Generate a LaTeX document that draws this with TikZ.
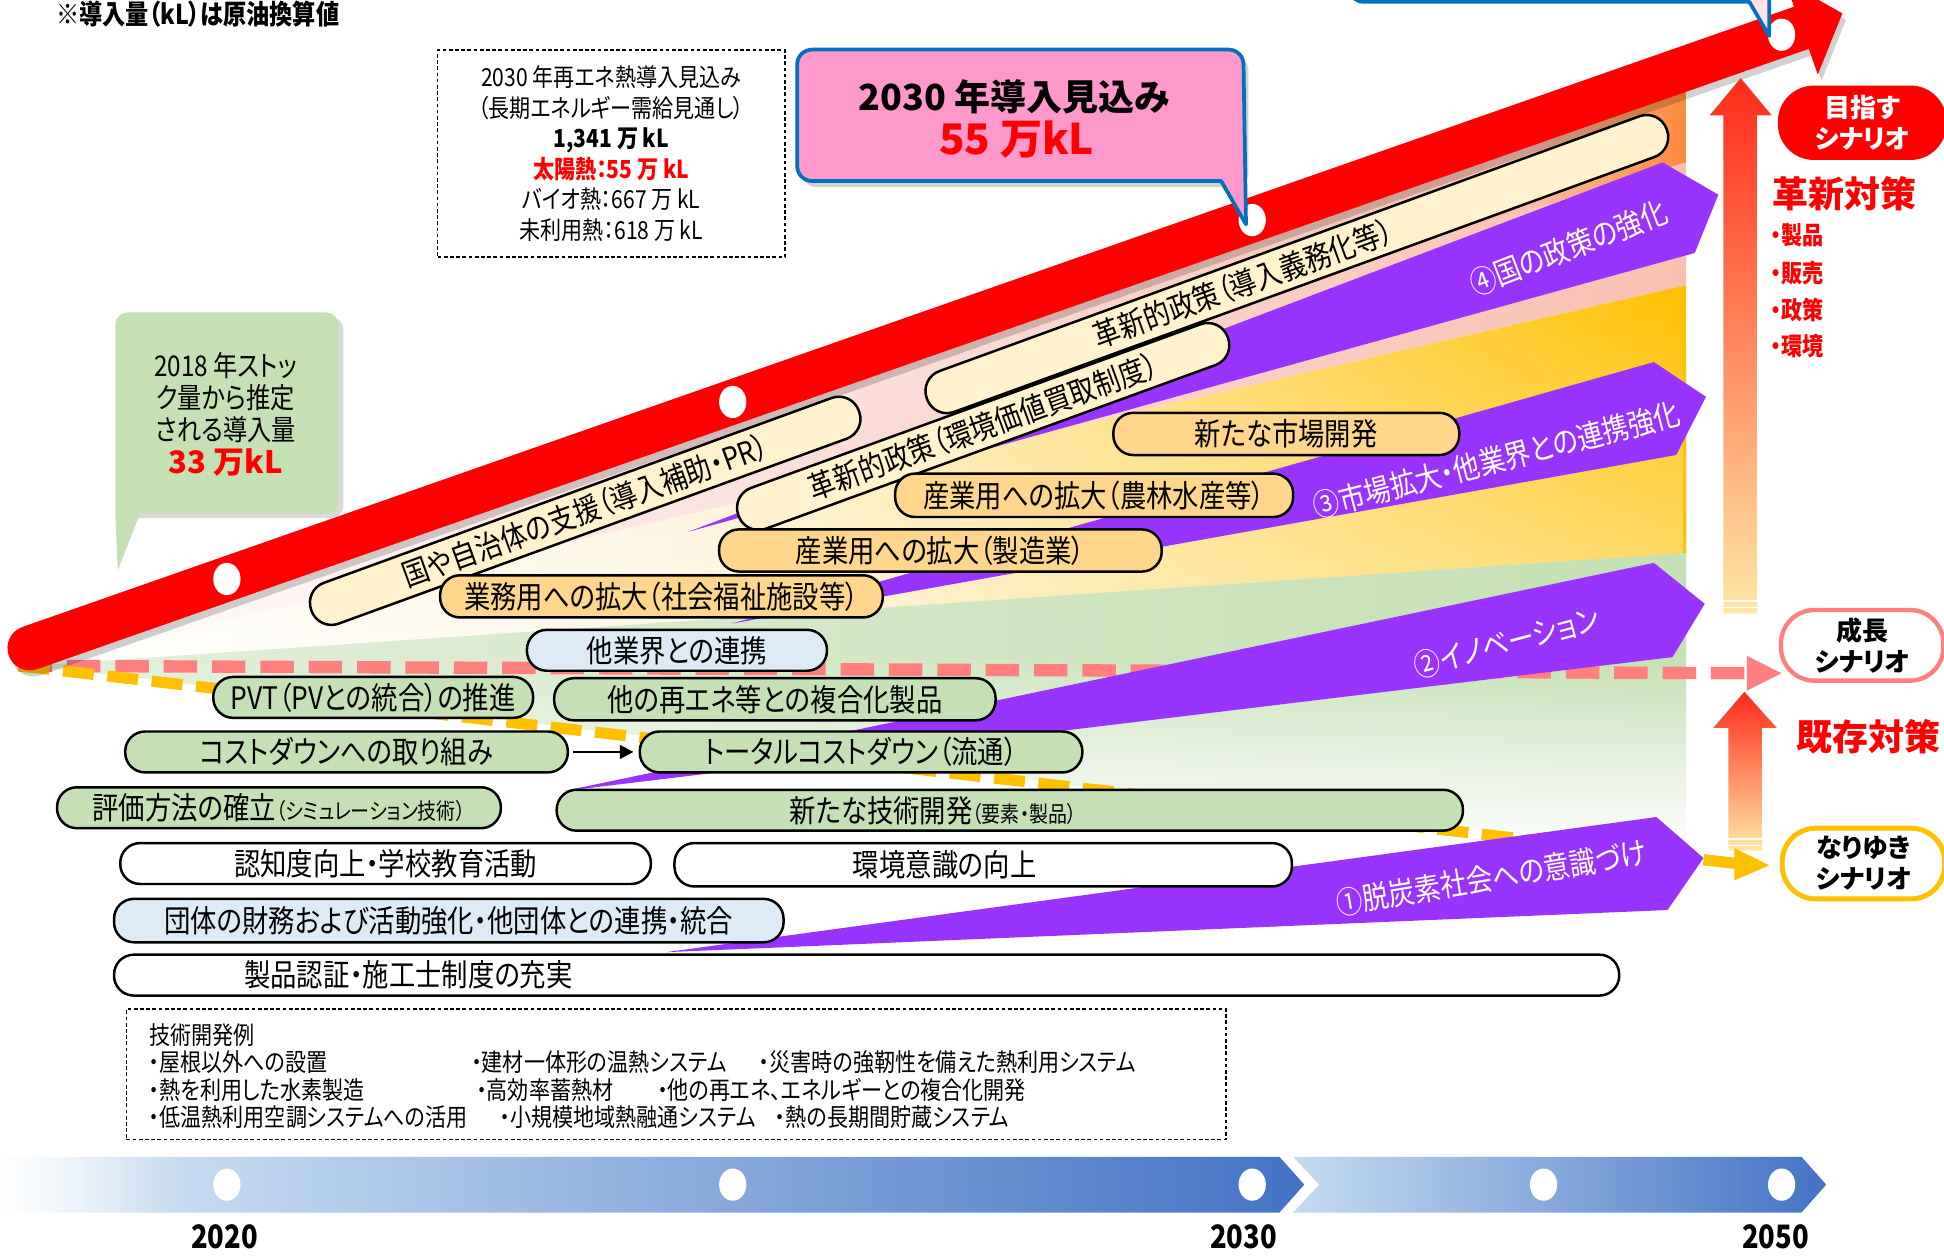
\documentclass[tikz,border=0pt]{standalone}
\usepackage{fontspec}
\setmainfont{Noto Sans CJK JP}[FakeStretch=0.85,RawFeature=+palt]
\newfontfamily\jpw{Noto Sans CJK JP}[RawFeature=+palt]
\usetikzlibrary{arrows.meta,fadings}
\newcommand\fsz[1]{\fontsize{#1}{#1}\selectfont}

\definecolor{bandred}{HTML}{FF0000}
\definecolor{purp}{HTML}{9933FF}
\definecolor{pinkd}{HTML}{FF7F7F}
\definecolor{yeld}{HTML}{FFC000}
\definecolor{boxorange}{HTML}{FFD68B}
\definecolor{boxcream}{HTML}{FFF2CC}
\definecolor{boxblue}{HTML}{DEEBF7}
\definecolor{boxgreen}{HTML}{C5E0B4}
\definecolor{calpink}{HTML}{FF99CC}
\definecolor{calpinklt}{HTML}{FDE0EA}
\definecolor{calblue}{HTML}{0070C0}
\definecolor{tlblue}{HTML}{4472C4}
\definecolor{tllight}{HTML}{C5DBF0}
\definecolor{tlpale}{HTML}{EAF2FA}
\definecolor{fAmid}{HTML}{FBDCD8}
\definecolor{fAhi}{HTML}{F9C0B0}
\definecolor{fAor}{HTML}{FF8A3C}
\definecolor{fBmid}{HTML}{FDF0D0}
\definecolor{fBhi}{HTML}{FFD65A}
\definecolor{fCpale}{HTML}{E6F1E0}
\definecolor{arrowred}{HTML}{FF2A1A}
\definecolor{arrowmid}{HTML}{FF8C6A}
\definecolor{arrowlow}{HTML}{FFE8A6}

\pgfdeclarehorizontalshading{fanAone}{100bp}{color(0bp)=(white); color(25bp)=(white); color(52bp)=(fAmid); color(70bp)=(fAhi); color(75bp)=(fAor); color(100bp)=(fAor)}
\pgfdeclarehorizontalshading{fanAtwo}{100bp}{color(0bp)=(white); color(25bp)=(white); color(50bp)=(fAmid); color(75bp)=(fAhi); color(100bp)=(fAhi)}
\pgfdeclarehorizontalshading{fanB}{100bp}{color(0bp)=(white); color(25bp)=(white); color(45bp)=(fBmid); color(62bp)=(fBhi); color(75bp)=(yeld); color(100bp)=(yeld)}
\pgfdeclareverticalshading{fanC}{100bp}{color(0bp)=(white); color(25bp)=(white); color(40bp)=(fCpale); color(58bp)=(boxgreen); color(100bp)=(boxgreen)}
\pgfdeclarehorizontalshading{tlone}{100bp}{color(0bp)=(white); color(25bp)=(white); color(28bp)=(tlpale); color(32bp)=(tllight); color(75bp)=(tlblue); color(100bp)=(tlblue)}
\pgfdeclarehorizontalshading{tltwo}{100bp}{color(0bp)=(tllight); color(25bp)=(tllight); color(75bp)=(tlblue); color(100bp)=(tlblue)}

\begin{document}
\begin{tikzpicture}[x=1pt,y=-1pt,
  pill/.style={inner sep=0pt, draw=black, line width=2pt, rounded corners=16pt, minimum height=33pt, font=\fsz{25}, text height=22pt, text depth=3pt},
  orangepill/.style={pill, fill=boxorange},
  bluepill/.style={pill, fill=boxblue},
  greenpill/.style={pill, fill=boxgreen},
  whitepill/.style={pill, fill=white},
  rpill/.style={pill, fill=boxcream, rounded corners=17pt, minimum height=35pt, rotate=20},
  ptext/.style={inner sep=0pt, text=white, font=\fsz{25}, text height=22pt, text depth=3pt},
  techt/.style={inner sep=0pt, anchor=west, font=\fsz{20}, text height=17.6pt, text depth=2.4pt},
  redhead/.style={inner sep=0pt, text=bandred, font=\jpw\bfseries\fsz{29}, text height=25.5pt, text depth=3.5pt},
  reditem/.style={inner sep=0pt, anchor=west, text=bandred, font=\bfseries\fsz{20}, text height=17.6pt, text depth=2.4pt},
  scen/.style={fill=white, line width=3.5pt, rounded corners=27pt, minimum width=131pt, minimum height=57pt, align=center, inner sep=0pt, font=\jpw\bfseries\fontsize{21}{25}\selectfont},
  year/.style={inner sep=0pt, font=\bfseries\fsz{26}, text height=22.9pt, text depth=3.1pt},
  pdash/.style={pinkd, line width=10pt, dash pattern=on 27pt off 12pt},
  ydash/.style={yeld, line width=9pt, dash pattern=on 25pt off 11pt}
]
\useasboundingbox (0,0) rectangle (1568,1013);
\fill[white] (0,0) rectangle (1568,1013);
\begin{scope}
\clip (0,0) rectangle (1568,1013);

% ---------- background fans ----------
\coordinate (org) at (25,537);
\shade[shading=fanAone] (25,522) -- (1360,55) -- (1360,131) -- (org) -- cycle;
\shade[shading=fanAtwo] (org) -- (1360,131) -- (1360,230) -- cycle;
\shade[shading=fanB] (org) -- (1360,230) -- (1360,446) -- cycle;
\fill[white, path fading=north, fill opacity=0.55] (org) -- (1360,230) -- (1360,446) -- cycle;
\shade[shading=fanC] (org) -- (1360,446) -- (1360,690) -- cycle;
\fill[white, path fading=east, fill opacity=0.5] (org) -- (1360,446) -- (1360,690) -- cycle;

% ---------- scenario dashed lines ----------
\coordinate (pinkend) at (1409,543);
\coordinate (yelend) at (1379,694);
\draw[pdash] (15,537) -- (pinkend);
\draw[ydash] (15,537) -- (yelend);

% ---------- purple arrows ----------
\fill[purp] (555,429) -- (1341,131) -- (1386,157) -- (1367,204) -- cycle;
\fill[purp] (590,503) -- (1334,292) -- (1376,320) -- (1352,367) -- cycle;
\fill[purp] (455,638) -- (1334,454) -- (1375,487) -- (1349,530) -- cycle;
\fill[purp] (537,768) -- (1336,659) -- (1374,692) -- (1345,734) -- cycle;
\node[ptext, rotate=21] (t4) at (1265,200) {④国の政策の強化};
\node[ptext, rotate=14.5] (t3) at (1207,371) {③市場拡大・他業界との連携強化};
\node[ptext, rotate=15] (t2) at (1215,518) {②イノベーション};
\node[ptext, rotate=9.5] (t1) at (1203,708) {①脱炭素社会への意識づけ};

% ---------- red band ----------
\coordinate (bandS) at (24,522.7);
\coordinate (bandE) at (1453,22.4);
\draw[line width=36pt, black, opacity=0.18, line cap=round] (27,527.7) -- (1456,27.4);
\fill[black, opacity=0.18] (1442.8,-10.3) -- (1489,15.8) -- (1469.2,65.1) -- cycle;
\draw[line width=36pt, bandred, line cap=round] (bandS) -- (bandE);
\fill[bandred] (1439.8,-15.3) -- (1486,10.8) -- (1466.2,60.1) -- cycle;
\foreach \p in {(183,467),(591,324.2),(1010,177.5),(1437,28)}
  \fill[white] \p ellipse [x radius=11, y radius=13];

% ---------- rotated boxes ----------
\node[rpill, minimum width=470pt] (sup) at (472,412) {国や自治体の支援（導入補助・PR）};
\node[rpill, minimum width=420pt] (pol1) at (793,344) {革新的政策（環境価値買取制度）};
\node[rpill, text width=347pt, inner xsep=144pt, align=left] (pol2) at (1046,213) {革新的政策（導入義務化等）};

% ---------- horizontal boxes ----------
\node[orangepill, minimum width=279pt, minimum height=34pt] (mkt) at (1037.5,350) {新たな市場開発};
\node[orangepill, minimum width=321pt, minimum height=35pt] (agri) at (882.5,399.5) {産業用への拡大（農林水産等）};
\node[orangepill, minimum width=357pt, minimum height=34pt] (manu) at (758.5,444) {産業用への拡大（製造業）};
\node[orangepill, minimum width=357pt, minimum height=34pt] (biz) at (533.5,481) {業務用への拡大（社会福祉施設等）};
\node[bluepill, minimum width=242pt] (ind) at (546,524.5) {他業界との連携};
\node[greenpill, minimum width=258pt] (pvt) at (301,562.5) {PVT（PVとの統合）の推進};
\node[greenpill, minimum width=356pt, minimum height=34pt] (hyb) at (625,564) {他の再エネ等との複合化製品};
\node[greenpill, minimum width=357pt] (cost) at (279.5,606.5) {コストダウンへの取り組み};
\node[greenpill, minimum width=357pt] (total) at (694.5,606.5) {トータルコストダウン（流通）};
\node[greenpill, minimum width=358pt] (eval) at (225,651.5) {評価方法の確立{\fsz{18}（シミュレーション技術）}};
\node[greenpill, text width=355pt, inner xsep=188pt, align=left] (newtech) at (814.5,653.5) {新たな技術開発{\fsz{18}（要素・製品）}};
\node[whitepill, minimum width=428pt] (aware) at (311,696.5) {認知度向上・学校教育活動};
\node[whitepill, minimum height=35pt, text width=210pt, inner xsep=144pt, align=left] (env) at (793,697.5) {環境意識の向上};
\node[bluepill, minimum width=540pt, minimum height=35pt] (assoc) at (362,742.5) {団体の財務および活動強化・他団体との連携・統合};
\node[whitepill, text width=1004pt, inner xsep=105pt, align=left] (cert) at (699,786.5) {製品認証・施工士制度の充実};
\draw[line width=2pt, -{Triangle[length=11pt,width=11pt]}, shorten <=3pt, shorten >=4pt] (cost) -- (total);

% ---------- callouts ----------
\fill[black, opacity=0.15, rounded corners=10pt] (97,256) rectangle (277,418);
\fill[boxgreen] (95,460) -- (113,414) -- (263,414) arc[start angle=90, end angle=0, radius=10] -- (273,262) arc[start angle=0, end angle=-90, radius=10] -- (103,252) arc[start angle=270, end angle=180, radius=10] -- (93,414) -- cycle;
\node[align=center, inner sep=0pt, font=\fontsize{23}{26}\selectfont] (stock) at (182,334) {2018 年ストッ\\ク量から推定\\される導入量\\{\jpw\bfseries\fsz{25}\color{bandred}33 万kL}};

\fill[black, opacity=0.18, rounded corners=12pt] (647,45) rectangle (1007,151);
\filldraw[fill=calpink, draw=calblue, line width=3pt, line join=round] (1005,181) -- (985,146) -- (655,146) arc[start angle=90, end angle=180, radius=12] -- (643,52) arc[start angle=180, end angle=270, radius=12] -- (991,40) arc[start angle=270, end angle=360, radius=12] -- cycle;
\node[inner sep=0pt, font=\jpw\bfseries\fsz{29}, text height=25.5pt, text depth=3.5pt] (c30a) at (818,78) {2030 年導入見込み};
\node[inner sep=0pt, font=\jpw\bfseries\fsz{34}, text height=29.9pt, text depth=4.1pt, text=bandred] (c30b) at (820,112) {55 万kL};

\filldraw[fill=calpinklt, draw=calblue, line width=3pt, line join=round] (1427,29) -- (1411,1.5) -- (1100,1.5) arc[start angle=90, end angle=180, radius=12] -- (1088,-30) -- (1427,-30) -- cycle;

% ---------- notes ----------
\node[inner sep=0pt, anchor=west, font=\bfseries\fsz{22}, text height=19.4pt, text depth=2.6pt] (note) at (45,11) {※導入量（kL）は原油換算値};
\node[draw, dash pattern=on 3pt off 2pt, line width=1.3pt, minimum width=280pt, minimum height=167pt, align=center, inner sep=0pt, font=\fontsize{20}{24.6}\selectfont] (info) at (493,124)
 {2030 年再エネ熱導入見込み\\（長期エネルギー需給見通し）\\{\bfseries 1,341 万 kL}\\{\bfseries\color{bandred}太陽熱：55 万 kL}\\バイオ熱：667 万 kL\\未利用熱：618 万 kL};

\node[draw, dash pattern=on 3pt off 2pt, line width=1.3pt, minimum width=887pt, minimum height=105pt, inner sep=0pt] (techbox) at (545.5,866.5) {};
\node[techt] (tk0) at (120,835) {技術開発例};
\node[techt] (tk1) at (120,857) {・屋根以外への設置};
\node[techt] (tk2) at (380,857) {・建材一体形の温熱システム};
\node[techt] (tk3) at (612,857) {・災害時の強靭性を備えた熱利用システム};
\node[techt] (tk4) at (120,879) {・熱を利用した水素製造};
\node[techt] (tk5) at (384,879) {・高効率蓄熱材};
\node[techt] (tk6) at (530,879) {・他の再エネ、エネルギーとの複合化開発};
\node[techt] (tk7) at (120,901) {・低温熱利用空調システムへの活用};
\node[techt] (tk8) at (403,901) {・小規模地域熱融通システム};
\node[techt] (tk9) at (625,901) {・熱の長期間貯蔵システム};

% ---------- timeline ----------
\shade[shading=tlone] (0,933) -- (1032,933) -- (1052,955.5) -- (1032,978) -- (0,978) -- cycle;
\shade[shading=tltwo] (1043,933) -- (1453,933) -- (1473,955.5) -- (1453,978) -- (1043,978) -- (1064,955.5) -- cycle;
\foreach \x in {183,591,1010,1245,1437}
  \fill[white] (\x,955.5) ellipse [x radius=11, y radius=13];
\node[year] (y2020) at (181,997) {2020};
\node[year] (y2030) at (1003,997) {2030};
\node[year] (y2050) at (1432,997) {2050};

% ---------- right side ----------
\shade[top color=arrowred, middle color=arrowmid, bottom color=arrowlow] (1390,495) -- (1390,93) -- (1379,93) -- (1404,63) -- (1429,93) -- (1417,93) -- (1417,495) -- cycle;
\draw[white, line width=1.5pt] (1389,485) -- (1418,485) (1389,490) -- (1418,490);
\shade[top color=arrowred, bottom color=arrowlow] (1394,686) -- (1394,587) -- (1382,587) -- (1407,558) -- (1433,587) -- (1421,587) -- (1421,686) -- cycle;
\draw[white, line width=1.5pt] (1393,677) -- (1422,677) (1393,682) -- (1422,682);

\node[scen, fill=bandred, draw=none, text=white, minimum width=136pt, minimum height=60pt, rounded corners=29pt] (mezasu) at (1502,99) {目指す\\シナリオ};
\node[scen, draw=pinkd] (seichou) at (1502,520.5) {成長\\シナリオ};
\node[scen, draw=yeld, line width=4pt] (nariyuki) at (1503,696.5) {なりゆき\\シナリオ};
\fill[pinkd] (1409,529) -- (1437,543) -- (1409,557) -- cycle;
\draw[yeld, line width=9pt] (yelend) -- (1401,696.5);
\fill[yeld] (1399,684) -- (1427,698) -- (1399,710) -- cycle;

\node[redhead] (kakushin) at (1488,156) {革新対策};
\node[redhead] (kison) at (1507,594) {既存対策};
\node[reditem] (ri1) at (1428,190) {・製品};
\node[reditem] (ri2) at (1428,220) {・販売};
\node[reditem] (ri3) at (1428,250) {・政策};
\node[reditem] (ri4) at (1428,279) {・環境};
\end{scope}
\end{tikzpicture}
\end{document}
